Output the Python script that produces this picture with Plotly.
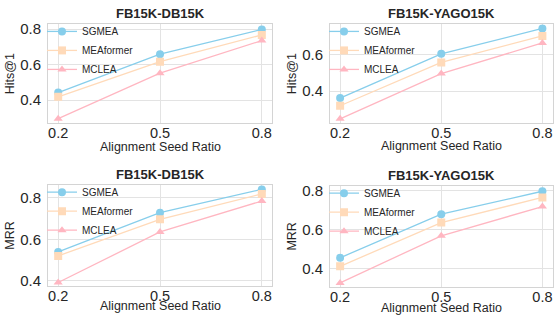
import plotly.graph_objects as go

x_ratio = [0.2, 0.5, 0.8]
x_ticks = ["0.2", "0.5", "0.8"]
methods = ["SGMEA", "MEAformer", "MCLEA"]

hits_db = {"SGMEA": [0.442, 0.658, 0.798],
           "MEAformer": [0.418, 0.616, 0.767],
           "MCLEA": [0.295, 0.551, 0.735]}
hits_yago = {"SGMEA": [0.362, 0.604, 0.743],
             "MEAformer": [0.32, 0.557, 0.702],
             "MCLEA": [0.248, 0.496, 0.664]}
mrr_db = {"SGMEA": [0.539, 0.728, 0.84],
          "MEAformer": [0.52, 0.696, 0.818],
          "MCLEA": [0.392, 0.635, 0.784]}
mrr_yago = {"SGMEA": [0.456, 0.68, 0.798],
            "MEAformer": [0.412, 0.637, 0.766],
            "MCLEA": [0.327, 0.569, 0.719]}

colors = {"SGMEA": "#87CEEB", "MEAformer": "#FFDAB9", "MCLEA": "#FFB6C1"}
symbols = {"SGMEA": "circle", "MEAformer": "square", "MCLEA": "triangle-up"}

W, H = 554, 325
panels = [
    # data, title, ytitle, x px (left,right), y px (top,bottom), x-title center y px, yrange, yticks
    (hits_db, "FB15K-DB15K", "Hits@1", (48, 272), (20.7, 121.7), 146, [0.27, 0.827], [0.4, 0.6, 0.8]),
    (hits_yago, "FB15K-YAGO15K", "Hits@1", (330, 552.5), (20.7, 121.7), 145.5, [0.225, 0.766], [0.4, 0.6]),
    (mrr_db, "FB15K-DB15K", "MRR", (48, 272), (185, 288), 309, [0.376, 0.861], [0.4, 0.6, 0.8]),
    (mrr_yago, "FB15K-YAGO15K", "MRR", (330, 552.5), (186, 289), 311, [0.307, 0.825], [0.4, 0.6, 0.8]),
]

FONT = "Liberation Sans, Arial, sans-serif"
TXT = "#262626"
fig = go.Figure()
layout = dict(
    width=W, height=H,
    margin=dict(l=0, r=0, t=0, b=0),
    paper_bgcolor="white", plot_bgcolor="white",
    font=dict(family=FONT, color=TXT),
    annotations=[],
)

for i, (data, title, ytitle, xpx, ypx, xty, yr, yt) in enumerate(panels):
    n = "" if i == 0 else str(i + 1)
    leg = "legend" if i == 0 else "legend" + str(i + 1)
    xd = [xpx[0] / W, xpx[1] / W]
    yd = [1 - ypx[1] / H, 1 - ypx[0] / H]
    for m in methods:
        fig.add_trace(go.Scatter(
            x=x_ratio, y=data[m], name=m, mode="lines+markers",
            line=dict(color=colors[m], width=1.3),
            marker=dict(color=colors[m], symbol=symbols[m], size=8),
            xaxis="x" + n, yaxis="y" + n, legend=leg, showlegend=True,
        ))
    layout["xaxis" + n] = dict(
        domain=xd, anchor="y" + n, range=[0.17, 0.83],
        tickvals=x_ratio, ticktext=x_ticks, tickfont=dict(size=14.5, color=TXT),
        showgrid=True, gridcolor="#e3e3e3", gridwidth=1, zeroline=False,
        showline=True, mirror=True, linecolor="#d4d4d4", linewidth=1,
        ticks="", ticklen=0, ticklabelstandoff=-3,
    )
    layout["yaxis" + n] = dict(
        domain=yd, anchor="x" + n, range=yr,
        tickvals=yt, ticktext=[f"{v:.1f}" for v in yt], tickfont=dict(size=15, color=TXT),
        showgrid=True, gridcolor="#e3e3e3", gridwidth=1, zeroline=False,
        showline=True, mirror=True, linecolor="#d4d4d4", linewidth=1,
        ticks="", ticklen=0, ticklabelstandoff=3,
        title=dict(text=ytitle, font=dict(size=12.5, color=TXT), standoff=2),
    )
    layout[leg] = dict(
        x=(xpx[0] - 6) / W, y=1 - (ypx[0] - 7.5) / H, xanchor="left", yanchor="top",
        bgcolor="rgba(0,0,0,0)", font=dict(size=10, color=TXT, family=FONT),
        tracegroupgap=0,
    )
    layout["annotations"].append(dict(
        text="<b>" + title + "</b>", x=(xd[0] + xd[1]) / 2, y=yd[1],
        xref="paper", yref="paper", xanchor="center", yanchor="bottom",
        yshift=1, showarrow=False, font=dict(size=13, color=TXT, family=FONT),
    ))
    layout["annotations"].append(dict(
        text="Alignment Seed Ratio", x=(xd[0] + xd[1]) / 2, y=1 - xty / H,
        xref="paper", yref="paper", xanchor="center", yanchor="middle",
        showarrow=False, font=dict(size=12.5, color=TXT, family=FONT),
    ))

fig.update_layout(**layout)
fig.write_html(
    "out.html",
    config={"displayModeBar": False},
    post_script="document.body.style.margin='0';document.body.style.padding='0';document.body.style.overflow='hidden';",
)
